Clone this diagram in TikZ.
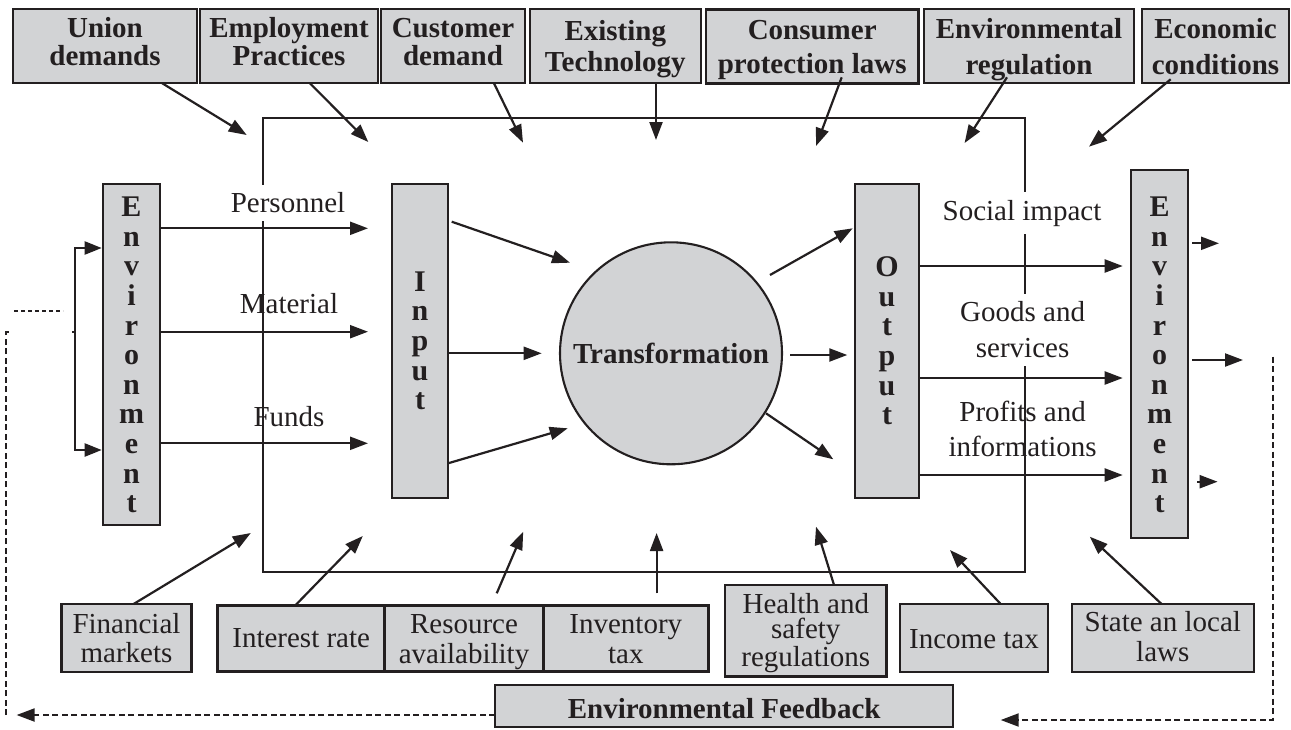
\documentclass[tikz,border=0pt]{standalone}
\usepackage{fontspec}
\setmainfont{Liberation Serif}
\usetikzlibrary{arrows.meta}
\definecolor{boxgray}{RGB}{210,211,213}
\definecolor{ink}{RGB}{35,31,32}
\begin{document}
\begin{tikzpicture}[x=1pt,y=-1pt,
  every node/.style={inner sep=0pt, outer sep=0pt, text=ink},
  line/.style={draw=ink, line width=2.2pt},
  arr/.style={draw=ink, line width=2.2pt, -{Triangle[length=18pt,width=13pt]}},
  dashline/.style={draw=ink, line width=2pt, dash pattern=on 6pt off 3.5pt},
  box/.style={draw=ink, fill=boxgray, line width=2.1pt, align=center, text depth=0pt},
  topbox/.style={box, font=\fontsize{29}{#1}\selectfont\bfseries, minimum height=74pt},
  botbox/.style={box, font=\fontsize{29}{#1}\selectfont},
  vbox/.style={box, font=\fontsize{30}{29.6}\selectfont\bfseries},
  lab/.style={font=\fontsize{29}{#1}\selectfont, align=center, anchor=base},
  labfill/.style={fill=white, inner ysep=8pt, inner xsep=2pt}
]
\fill[white] (0,0) rectangle (1291,729);
\useasboundingbox (0,0) rectangle (1291,729);

% frame
\node[draw=ink, line width=2.2pt, minimum width=762pt, minimum height=454pt] (frame) at (644,345) {};

% top boxes
\node[topbox=27.7, text height=37.4pt, minimum width=184.6pt] (b1) at (105,46.3) {Union\\demands};
\node[topbox=27.7, text height=37.4pt, minimum width=178pt] (b2) at (289,46.3) {Employment\\Practices};
\node[topbox=27.7, text height=37.4pt, minimum width=144pt] (b3) at (453,46.3) {Customer\\demand};
\node[topbox=31.7, text height=50.8pt, minimum width=170.7pt] (b4) at (615.3,46.3) {Existing\\Technology};
\node[topbox=34, text height=53.4pt, minimum width=212.3pt, line width=2.8pt] (b5) at (812.2,46.3) {Consumer\\protection laws};
\node[topbox=35.7, text height=55.4pt, minimum width=210pt] (b6) at (1029,46.3) {Environmental\\regulation};
\node[topbox=36, text height=55.4pt, minimum width=147pt] (b7) at (1215.5,46.3) {Economic\\conditions};

% vertical boxes
\node[vbox, minimum width=57pt, minimum height=341pt, text height=316.4pt] (envL) at (131.5,354.5) {E\\n\\v\\i\\r\\o\\n\\m\\e\\n\\t};
\node[vbox, minimum width=56pt, minimum height=314pt, text height=137.4pt] (inp) at (420,341) {I\\n\\p\\u\\t};
\node[vbox, minimum width=64pt, minimum height=314pt, text height=167.4pt] (outp) at (887,341) {O\\u\\t\\p\\u\\t};
\node[vbox, minimum width=57pt, minimum height=368pt, text height=317.4pt] (envR) at (1159.5,354) {E\\n\\v\\i\\r\\o\\n\\m\\e\\n\\t};

% transformation
\node[circle, draw=ink, fill=boxgray, line width=2.1pt, minimum size=222pt,
      font=\fontsize{29}{30}\selectfont\bfseries] (tr) at (671,353.3) {Transformation};

% bottom boxes
\node[botbox=29.4, minimum width=130pt, minimum height=67.7pt, text height=49.6pt] (fin) at (126.5,637.9) {Financial\\markets};
\node[botbox=30, minimum width=167pt, minimum height=66.2pt, text height=17.4pt, line width=3.2pt] (int) at (301.2,638.6) {Interest rate};
\node[botbox=30, minimum width=158.6pt, minimum height=66.2pt, text height=49.4pt, line width=3.2pt] (res) at (464,638.6) {Resource\\availability};
\node[botbox=30, minimum width=165pt, minimum height=66.2pt, text height=49.4pt, line width=3.2pt] (inv) at (625.8,638.6) {Inventory\\tax};
\node[botbox=24.7, minimum width=161.7pt, minimum height=91.7pt, text height=70.4pt, line width=2.8pt] (health) at (805.8,630.8) {Health and\\safety\\regulations};
\node[botbox=30, minimum width=148pt, minimum height=67.7pt, text height=20.8pt] (income) at (974,637.9) {Income tax};
\node[botbox=30, minimum width=181.6pt, minimum height=67.7pt, text height=47.6pt] (state) at (1162.8,637.9) {State an local\\laws};
\node[box, font=\fontsize{29}{30}\selectfont\bfseries, minimum width=458.3pt, minimum height=42.3pt, text height=24.2pt] (fb) at (724.2,706.2) {Environmental Feedback};

% labels
\node[lab=30, labfill] (lp) at (288,212.7) {Personnel};
\node[lab=30] (lm) at (289,313.3) {Material};
\node[lab=30] (lf) at (289,426.7) {Funds};
\node[lab=30, labfill] (ls) at (1022,220) {Social impact};
\node[lab=35.6, labfill] (lg) at (1022.6,357.3) {Goods and\\services};
\node[lab=35] (lpi) at (1022.6,456.7) {Profits and\\informations};

% named end points
\coordinate (t1) at (246.7,135);
\coordinate (t2) at (368.3,142);
\coordinate (t3) at (523,142.7);
\coordinate (t4) at (656,140);
\coordinate (t5) at (816,146);
\coordinate (t6) at (964.6,143);
\coordinate (t7) at (1089,146.7);
\coordinate (u1) at (250.8,533);
\coordinate (u2) at (362.8,536);
\coordinate (u3) at (523.2,531.7);
\coordinate (u4) at (656.6,533);
\coordinate (u5) at (816,526.7);
\coordinate (u6) at (950,550);
\coordinate (u7) at (1089.8,536.7);
\coordinate (m1) at (368,228.3);
\coordinate (m2) at (368,331.7);
\coordinate (m3) at (368,443.3);
\coordinate (n1) at (570,262.7);
\coordinate (n2) at (541.7,353.3);
\coordinate (n3) at (567.7,428.3);
\coordinate (o1) at (852.7,228.3);
\coordinate (o2) at (847.3,355);
\coordinate (o3) at (833.3,459.3);
\coordinate (r1) at (1122.7,266);
\coordinate (r2) at (1122.7,378);
\coordinate (r3) at (1122.7,475);
\coordinate (s1) at (1219,243.3);
\coordinate (s2) at (1243,360);
\coordinate (s3) at (1217.6,481.7);
\coordinate (brk) at (75,331.7);
\coordinate (d1) at (14,311);
\coordinate (d2) at (63,311);
\coordinate (fbL) at (16.6,715);
\coordinate (fbC) at (6.2,715);
\coordinate (fbT) at (6.2,331.7);
\coordinate (rfT) at (1273,356.7);
\coordinate (rfB) at (1273,720);
\coordinate (rfE) at (1000.7,720);

% top arrows
\draw[arr] ([xshift=57.3pt]b1.south) -- (t1);
\draw[arr] ([xshift=21pt]b2.south) -- (t2);
\draw[arr] ([xshift=41pt]b3.south) -- (t3);
\draw[arr] ([xshift=40.7pt]b4.south) -- (t4);
\draw[arr] ([xshift=29.5pt,yshift=6pt]b5.south) -- (t5);
\draw[arr] ([xshift=-22pt,yshift=6pt]b6.south) -- (t6);
\draw[arr] ([xshift=-44.8pt,yshift=4pt]b7.south) -- (t7);

% bottom arrows
\draw[arr] ([xshift=7pt]fin.north) -- (u1);
\draw[arr] ([xshift=-6pt]int.north) -- (u2);
\draw[arr] ([xshift=32.7pt,yshift=12.2pt]res.north) -- (u3);
\draw[arr] ([xshift=30.8pt,yshift=12.2pt]inv.north) -- (u4);
\draw[arr] ([xshift=28.2pt]health.north) -- (u5);
\draw[arr] ([xshift=26.7pt]income.north) -- (u6);
\draw[arr] ([xshift=-1.2pt]state.north) -- (u7);

% environment to input
\draw[arr] ([yshift=126.2pt]envL.east) -- (m1);
\draw[arr] ([yshift=22.8pt]envL.east) -- (m2);
\draw[arr] ([yshift=-88.8pt]envL.east) -- (m3);

% input to transformation
\draw[arr] ([xshift=3.7pt,yshift=119.3pt]inp.east) -- (n1);
\draw[arr] ([yshift=-12.3pt]inp.east) -- (n2);
\draw[arr] ([yshift=-122.3pt]inp.east) -- (n3);

% transformation to output
\draw[arr] ([xshift=99pt,yshift=78.3pt]tr.center) -- (o1);
\draw[arr] ([xshift=119pt,yshift=-1.7pt]tr.center) -- (o2);
\draw[arr] ([xshift=95pt,yshift=-60pt]tr.center) -- (o3);

% output to environment
\draw[arr] ([yshift=75pt]outp.east) -- (r1);
\draw[arr] ([yshift=-37pt]outp.east) -- (r2);
\draw[arr] ([yshift=-134pt]outp.east) -- (r3);

% environment outwards
\draw[arr] ([xshift=4pt,yshift=110.7pt]envR.east) -- (s1);
\draw[arr] ([xshift=4pt,yshift=-6pt]envR.east) -- (s2);
\draw[arr] ([xshift=9pt,yshift=-127.7pt]envR.east) -- (s3);

% left bracket
\draw[line, {Triangle[length=17pt,width=13pt]}-{Triangle[length=17pt,width=13pt]}]
  ([xshift=-1.3pt,yshift=106.5pt]envL.west) -| (brk) |- ([xshift=-1.3pt,yshift=-95.5pt]envL.west);
\draw[line] (brk) -- ++(-3.5,0);

% dotted stub
\draw[draw=ink, line width=2.6pt, dash pattern=on 4pt off 3pt] (d1) -- (d2);

% feedback lines
\draw[dashline, -{Triangle[length=18pt,width=13pt]}] ([yshift=-8.8pt]fb.west) -- (fbL);
\draw[dashline] (fbC) -- (fbT) -- ++(4,0);
\draw[dashline, -{Triangle[length=18pt,width=13pt]}] (rfT) -- (rfB) -- (rfE);
\end{tikzpicture}
\end{document}
